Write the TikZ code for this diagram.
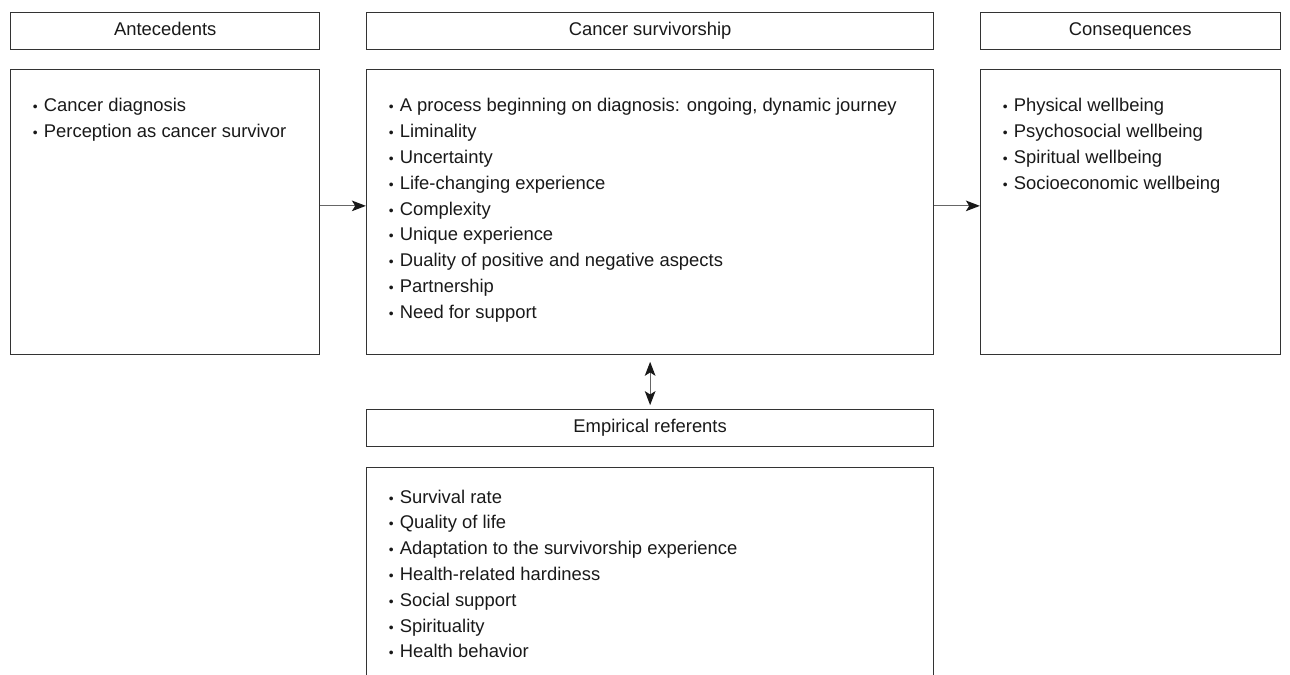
\documentclass[tikz,border=0pt]{standalone}
\usepackage{fontspec}
\setmainfont{Liberation Sans}
\usetikzlibrary{positioning,arrows.meta}

\newcommand\itm{\strut\makebox[8.25pt][l]{\scalebox{0.75}{\textbullet}}}

\tikzset{
  arr/.tip={Stealth[length=10.5pt,width=8pt,inset=2.5pt,color=black!90]},
}

\begin{document}
\begin{tikzpicture}[x=0.75pt,y=-0.75pt,
  font=\fontsize{13.8pt}{19.35pt}\selectfont,
  box/.style={draw=black!80, line width=0.8pt, inner sep=0pt},
  head/.style={box, minimum height=27.4pt, text height=10pt, text depth=3pt, text=black!90},
  items/.style={align=left, inner sep=0pt, text=black!90},
  link/.style={draw=black!60, line width=0.9pt}]
  \useasboundingbox (0,0) rectangle (1290,675);
  \clip (0,0) rectangle (1290,675);

  % headings
  \node[head, minimum width=232pt, anchor=north west] (antH) at (10,12) {Antecedents};
  \node[head, minimum width=425.6pt, right=34.1pt of antH] (survH) {Cancer survivorship};
  \node[head, minimum width=224.8pt, right=34.1pt of survH] (consH) {Consequences};

  % content boxes
  \node[box, minimum width=232pt, minimum height=214.1pt, below=14.25pt of antH] (antC) {};
  \node[box, minimum width=425.6pt, minimum height=214.1pt, below=14.25pt of survH] (survC) {};
  \node[box, minimum width=224.8pt, minimum height=214.1pt, below=14.25pt of consH] (consC) {};
  \node[head, minimum width=425.6pt, below=40.5pt of survC] (empH) {Empirical referents};
  \node[box, minimum width=425.6pt, minimum height=170pt, below=15pt of empH] (empC) {};

  % lists
  \node[items, below right=18.75pt and 17pt of antC.north west] (antL) {%
    \itm Cancer diagnosis\\
    \itm Perception as cancer survivor};
  \node[items, below right=18.75pt and 17pt of survC.north west] (survL) {%
    \itm A process beginning on diagnosis: ongoing, dynamic journey\\
    \itm Liminality\\
    \itm Uncertainty\\
    \itm Life-changing experience\\
    \itm Complexity\\
    \itm Unique experience\\
    \itm Duality of positive and negative aspects\\
    \itm Partnership\\
    \itm Need for support};
  \node[items, below right=18.75pt and 17pt of consC.north west] (consL) {%
    \itm Physical wellbeing\\
    \itm Psychosocial wellbeing\\
    \itm Spiritual wellbeing\\
    \itm Socioeconomic wellbeing};
  \node[items, below right=13.5pt and 17pt of empC.north west] (empL) {%
    \itm Survival rate\\
    \itm Quality of life\\
    \itm Adaptation to the survivorship experience\\
    \itm Health-related hardiness\\
    \itm Social support\\
    \itm Spirituality\\
    \itm Health behavior};

  % arrows
  \draw[link, -arr] ([yshift=4.5pt]antC.east) -- ([yshift=4.5pt]survC.west);
  \draw[link, -arr] ([yshift=4.5pt]survC.east) -- ([yshift=4.5pt]consC.west);
  \draw[link, arr-arr, shorten <=5pt, shorten >=3pt] (survC.south) -- (empH.north);
\end{tikzpicture}
\end{document}
